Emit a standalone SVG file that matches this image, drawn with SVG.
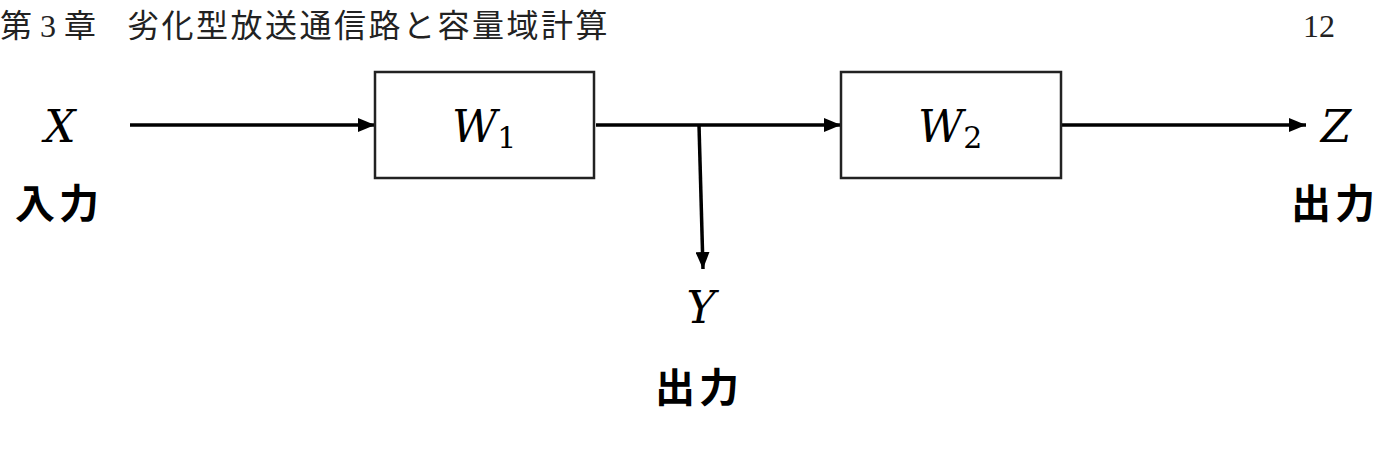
<svg xmlns="http://www.w3.org/2000/svg" width="1395" height="452" viewBox="0 0 1395 452">
<defs>
<marker id="ah" viewBox="0 0 17 14" refX="17" refY="7" markerWidth="17" markerHeight="14" markerUnits="userSpaceOnUse" orient="auto">
<path d="M0,0 L17,7 L0,14 z" fill="#000"/>
</marker>
<style>
.hdr{font-family:"Liberation Serif","Noto Sans CJK JP",serif;font-size:32px;fill:#222}
.box{fill:#fff;stroke:#222;stroke-width:2.5}
.var{font-family:"DejaVu Serif","Liberation Serif",serif;font-style:italic;font-size:44px;fill:#000}
.sub{font-family:"DejaVu Serif","Liberation Serif",serif;font-size:30px;fill:#000}
.jp{font-family:"Noto Sans CJK JP",sans-serif;font-weight:bold;font-size:40px;fill:#000;letter-spacing:4px}
.ln{stroke:#000;stroke-width:3.5;fill:none}
</style>
</defs>
<text class="hdr" x="0" y="37">第 3 章<tspan x="127" letter-spacing="2.5">劣化型放送通信路と容量域計算</tspan></text>
<text class="hdr" x="1303" y="37">12</text>
<g id="connectors">
<line class="ln" x1="130" y1="125" x2="375" y2="125" marker-end="url(#ah)"/>
<line class="ln" x1="596" y1="125" x2="841" y2="125" marker-end="url(#ah)"/>
<line class="ln" x1="699" y1="125" x2="703" y2="269" marker-end="url(#ah)"/>
<line class="ln" x1="1062" y1="125" x2="1306" y2="125" marker-end="url(#ah)"/>
</g>
<g id="x-in">
<text class="var" x="60" y="142" text-anchor="middle">X</text>
<text class="jp" x="15" y="218">入力</text>
</g>
<g id="w1">
<rect class="box" x="375" y="72" width="219" height="106"/>
<text class="var" x="452" y="142">W<tspan class="sub" font-style="normal" dy="6">1</tspan></text>
</g>
<g id="w2">
<rect class="box" x="841" y="72" width="220" height="106"/>
<text class="var" x="918" y="142">W<tspan class="sub" font-style="normal" dy="6">2</tspan></text>
</g>
<g id="y-out">
<text class="var" x="701" y="323" text-anchor="middle">Y</text>
<text class="jp" x="655" y="402">出力</text>
</g>
<g id="z-out">
<text class="var" x="1336" y="142" text-anchor="middle">Z</text>
<text class="jp" x="1291" y="218">出力</text>
</g>
</svg>
